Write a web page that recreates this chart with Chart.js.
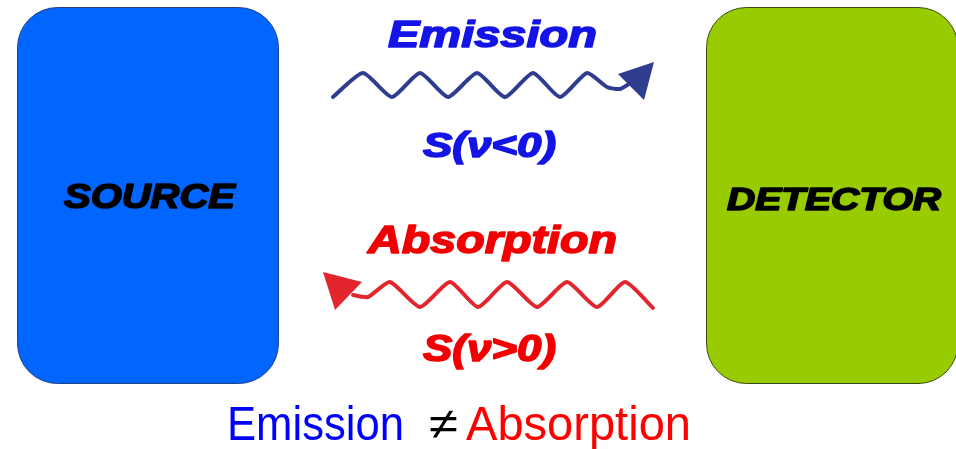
<!DOCTYPE html>
<html>
<head>
<meta charset="utf-8">
<script src="https://cdn.jsdelivr.net/npm/chart.js@4.4.0/dist/chart.umd.min.js"></script>
<style>
  html, body { margin: 0; padding: 0; background: #ffffff; }
  #diagram { display: block; }
</style>
</head>
<body>
<canvas id="diagram" width="956" height="449"></canvas>
<script>
// wave paths (x, y in picture units, y grows downward)
let emissionX = [333, 363, 392, 420, 448, 477, 505, 533, 560, 587, 607, 620, 632];
let emissionY = [97, 73, 97, 73, 97, 73, 97, 73, 97, 73, 87, 89, 82];
let absorptionX = [653, 625, 597, 567, 537, 507, 478, 450, 420, 390, 368, 353];
let absorptionY = [308, 282, 307, 282, 307, 282, 307, 282, 307, 282, 297, 295];

// arrow heads (three corners each)
let emissionHeadX = [618, 654, 644];
let emissionHeadY = [74, 62, 100];
let absorptionHeadX = [323, 362, 335];
let absorptionHeadY = [272, 282, 310];

// boxes: left, right, top, bottom
let boxNames = ['SOURCE', 'DETECTOR'];
let boxLeft = [17.5, 706.5];
let boxRight = [278.5, 958];
let boxTop = [7.5, 7.5];
let boxBottom = [383.5, 383.5];

// labels
let topLabels = ['Emission', 'S(\u03BD<0)', 'Absorption', 'S(\u03BD>0)'];
let bottomLabels = ['Emission', '\u2260', 'Absorption'];

function toPoints(xs, ys) {
    let pts = [];
    for (let i = 0; i < xs.length; i++) {
        pts.push({ x: xs[i], y: ys[i] });
    }
    return pts;
}

// draw text squeezed/stretched to fit between left and right
function fitText(ctx, text, left, right, baseline, cap, style, color, heavy) {
    let size = cap / 0.716;
    ctx.font = style + ' ' + size + 'px "Liberation Sans", Arial, sans-serif';
    let w = ctx.measureText(text).width;
    ctx.save();
    ctx.translate(left, baseline);
    ctx.scale((right - left) / w, 1);
    ctx.fillStyle = color;
    ctx.textBaseline = 'alphabetic';
    ctx.textAlign = 'left';
    ctx.fillText(text, 0, 0);
    if (heavy) {
        // thicken strokes, the original uses a heavier face
        ctx.strokeStyle = color;
        ctx.lineWidth = heavy;
        ctx.lineJoin = 'round';
        ctx.strokeText(text, 0, 0);
    }
    ctx.restore();
}

function roundBox(ctx, x0, y0, x1, y1, r) {
    ctx.beginPath();
    ctx.moveTo(x0 + r, y0);
    ctx.lineTo(x1 - r, y0);
    ctx.arcTo(x1, y0, x1, y0 + r, r);
    ctx.lineTo(x1, y1 - r);
    ctx.arcTo(x1, y1, x1 - r, y1, r);
    ctx.lineTo(x0 + r, y1);
    ctx.arcTo(x0, y1, x0, y1 - r, r);
    ctx.lineTo(x0, y0 + r);
    ctx.arcTo(x0, y0, x0 + r, y0, r);
    ctx.closePath();
}

let boxPlugin = {
    id: 'boxes',
    beforeDatasetsDraw(chart) {
        let ctx = chart.ctx;
        let sx = chart.scales.x, sy = chart.scales.y;
        let fills = ['#0066ff', '#99cc00'];
        let edges = ['#27408b', '#3a4a10'];
        for (let i = 0; i < boxNames.length; i++) {
            let x0 = sx.getPixelForValue(boxLeft[i]);
            let x1 = sx.getPixelForValue(boxRight[i]);
            let y0 = sy.getPixelForValue(boxTop[i]);
            let y1 = sy.getPixelForValue(boxBottom[i]);
            ctx.save();
            roundBox(ctx, x0, y0, x1, y1, 40);
            ctx.fillStyle = fills[i];
            ctx.fill();
            ctx.lineWidth = 1;
            ctx.strokeStyle = edges[i];
            ctx.stroke();
            ctx.restore();
        }
        // box captions
        fitText(ctx, boxNames[0], 64, 235, 208, 25, 'italic bold', '#000000', 1.6);
        fitText(ctx, boxNames[1], 727, 941, 210, 22, 'italic bold', '#000000', 1.6);
    },
    afterDatasetsDraw(chart) {
        let ctx = chart.ctx;
        let sx = chart.scales.x, sy = chart.scales.y;
        let heads = [[emissionHeadX, emissionHeadY, '#2f3d8f'], [absorptionHeadX, absorptionHeadY, '#e3262e']];
        heads.forEach(h => {
            ctx.save();
            ctx.beginPath();
            for (let i = 0; i < h[0].length; i++) {
                let px = sx.getPixelForValue(h[0][i]);
                let py = sy.getPixelForValue(h[1][i]);
                if (i === 0) ctx.moveTo(px, py); else ctx.lineTo(px, py);
            }
            ctx.closePath();
            ctx.fillStyle = h[2];
            ctx.fill();
            ctx.restore();
        });

        fitText(ctx, topLabels[0], 388, 597, 47, 27, 'italic bold', '#1414e6', 1.6);
        fitText(ctx, topLabels[1], 423, 556, 157, 25, 'italic bold', '#1414e6', 1.6);
        fitText(ctx, topLabels[2], 368, 617, 253, 28, 'italic bold', '#f00000', 1.6);
        fitText(ctx, topLabels[3], 423, 556, 361, 26, 'italic bold', '#f00000', 1.6);

        fitText(ctx, bottomLabels[0], 227, 404, 440, 35, 'normal', '#0000ff', 0);
        fitText(ctx, bottomLabels[1], 429, 458, 439, 32, 'normal', '#000000', 0);
        fitText(ctx, bottomLabels[2], 466, 691, 440, 35, 'normal', '#ff0000', 0);
    }
};

let ctx = document.getElementById('diagram').getContext('2d');
let chart = new Chart(ctx, {
    type: 'scatter',
    data: {
        datasets: [{
            label: 'Emission',
            data: toPoints(emissionX, emissionY),
            showLine: true,
            borderColor: '#2f3d8f',
            borderWidth: 4,
            pointRadius: 0,
            tension: 0.2,
            borderCapStyle: 'round',
            borderJoinStyle: 'round'
        }, {
            label: 'Absorption',
            data: toPoints(absorptionX, absorptionY),
            showLine: true,
            borderColor: '#e3262e',
            borderWidth: 4,
            pointRadius: 0,
            tension: 0.2,
            borderCapStyle: 'round',
            borderJoinStyle: 'round'
        }]
    },
    options: {
        responsive: false,
        animation: false,
        layout: { padding: 0 },
        plugins: {
            legend: { display: false },
            tooltip: { enabled: false }
        },
        scales: {
            x: { type: 'linear', min: 0, max: 956, display: false },
            y: { type: 'linear', min: 0, max: 449, reverse: true, display: false }
        }
    },
    plugins: [boxPlugin]
});
</script>
</body>
</html>
